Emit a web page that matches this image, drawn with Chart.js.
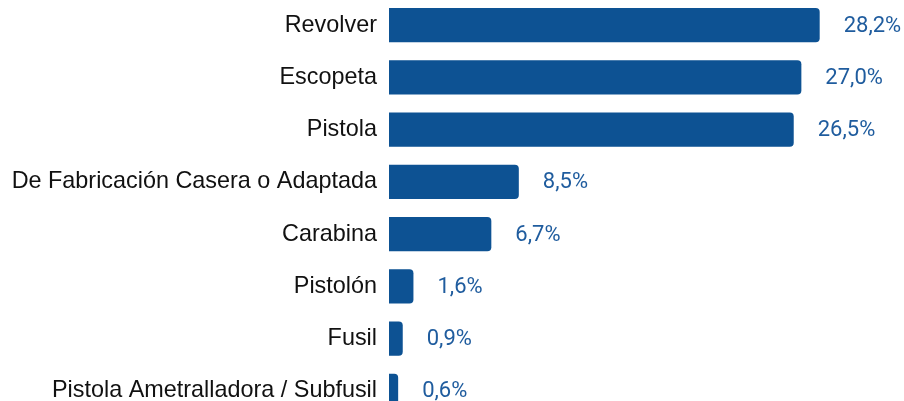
<!DOCTYPE html>
<html><head><meta charset="utf-8">
<script src="https://cdn.jsdelivr.net/npm/chart.js@4"></script>
<style>
html,body{margin:0;padding:0;overflow:hidden;background:#fff;width:904px;height:401px}
canvas{display:block;margin-top:-1px}
</style></head><body>
<canvas id="c" width="904" height="418" style="width:904px;height:418px"></canvas>
<script>
const categories = ["Revolver","Escopeta","Pistola","De Fabricación Casera o Adaptada","Carabina","Pistolón","Fusil","Pistola Ametralladora / Subfusil"];
const values = [28.2, 27.0, 26.5, 8.5, 6.7, 1.6, 0.9, 0.6];
const fmt = v => v.toFixed(1).replace('.', ',') + '%';

const valueLabels = {
  id: 'valueLabels',
  afterDatasetsDraw(chart) {
    const ctx = chart.ctx;
    const meta = chart.getDatasetMeta(0);
    ctx.save();
    ctx.font = '22px Roboto';
    ctx.fillStyle = '#1f5c9e';
    ctx.textAlign = 'left';
    ctx.textBaseline = 'middle';
    meta.data.forEach((bar, i) => {
      ctx.fillText(fmt(values[i]), bar.x + 24, bar.y + 1);
    });
    ctx.restore();
  }
};

new Chart(document.getElementById('c'), {
  type: 'bar',
  data: { labels: categories, datasets: [{ data: values, backgroundColor: '#0d5293', borderRadius: 4, borderSkipped: 'start', categoryPercentage: 0.652, barPercentage: 1 }] },
  options: {
    indexAxis: 'y',
    responsive: false, maintainAspectRatio: false, animation: false, devicePixelRatio: 1,
    layout: { padding: { top: 0, bottom: 0, left: 0, right: 11 } },
    plugins: { legend: { display: false }, tooltip: { enabled: false } },
    scales: {
      x: { min: 0, max: 33, display: false, grid: { display: false } },
      y: {
        grid: { display: false, drawTicks: false }, border: { display: false },
        ticks: { color: '#111111', font: { family: 'Liberation Sans', size: 23.4 }, padding: 12, autoSkip: false },
        afterFit(s) { s.width = 389; s.paddingTop = 0; s.paddingBottom = 0; }
      }
    }
  },
  plugins: [valueLabels]
});
</script></body></html>
